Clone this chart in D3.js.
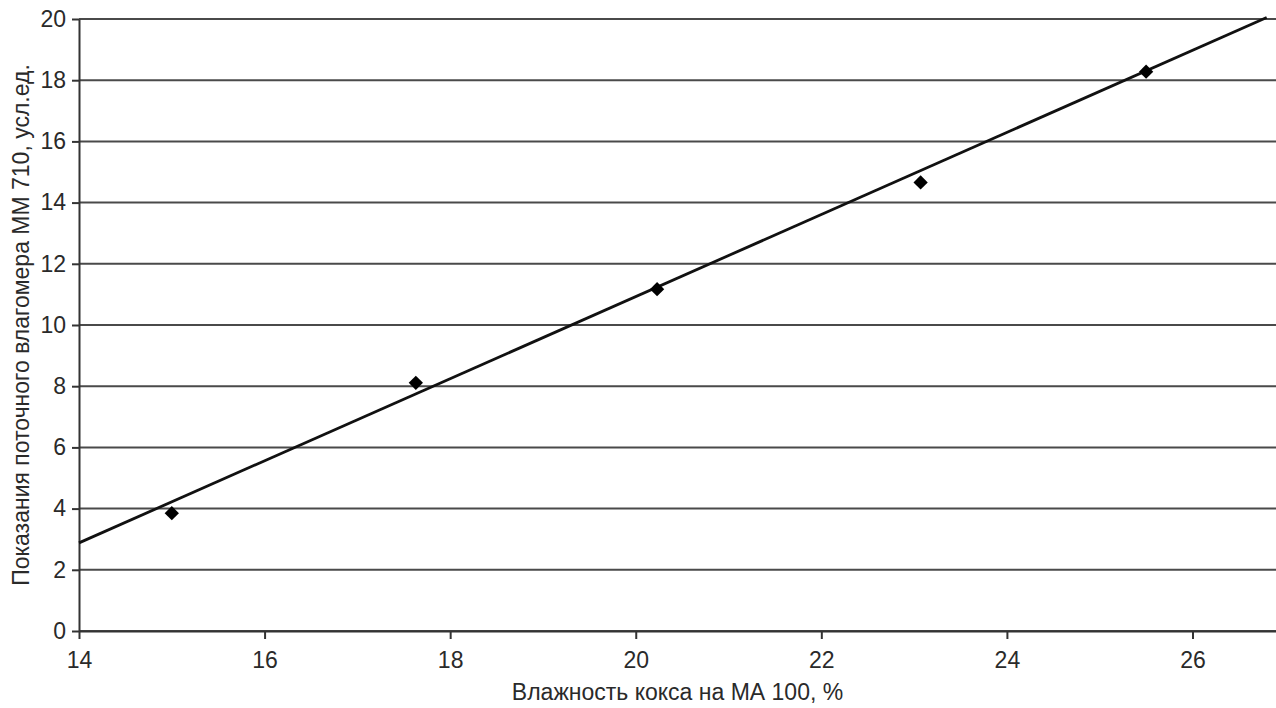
<!DOCTYPE html>
<html>
<head>
<meta charset="utf-8">
<script src="https://cdn.jsdelivr.net/npm/d3@7"></script>
<style>
  html, body { margin: 0; padding: 0; background: #fff; }
  svg { display: block; font-family: "Liberation Sans", Arial, sans-serif; }
</style>
</head>
<body>
<div id="chart"></div>
<script>
// measured points
const moistureMA = [15.0, 17.63, 20.23, 23.07, 25.5];
const readingMM = [3.85, 8.11, 11.17, 14.66, 18.28];

// trend line end points
const trendX = [14.0, 26.8];
const trendY = [2.88, 20.05];

const xTicks = [14, 16, 18, 20, 22, 24, 26];
const yTicks = [0, 2, 4, 6, 8, 10, 12, 14, 16, 18, 20];

const xTitle = 'Влажность кокса на МА 100, %';
const yTitle = 'Показания поточного влагомера ММ 710, усл.ед.';

const width = 1276, height = 708;
const margin = { top: 19, right: 0, bottom: 77, left: 79 };
const w = width - margin.left - margin.right;
const h = height - margin.top - margin.bottom;

const svg = d3.select('#chart').append('svg')
  .attr('width', width)
  .attr('height', height);

const g = svg.append('g')
  .attr('transform', `translate(${margin.left},${margin.top})`);

const x = d3.scaleLinear().domain([14, 26.9]).range([0, w]);
const y = d3.scaleLinear().domain([0, 20]).range([h, 0]);

// horizontal grid
g.selectAll('.grid')
  .data(yTicks)
  .enter()
  .append('line')
  .attr('class', 'grid')
  .attr('x1', 0)
  .attr('x2', w)
  .attr('y1', d => y(d))
  .attr('y2', d => y(d))
  .attr('stroke', '#4a4a4a')
  .attr('stroke-width', 2);

// axes
const xAxis = d3.axisBottom(x).tickValues(xTicks).tickSize(8).tickSizeOuter(0);
const yAxis = d3.axisLeft(y).tickValues(yTicks).tickSize(7).tickSizeOuter(0);

const gx = g.append('g')
  .attr('transform', `translate(0,${h})`)
  .call(xAxis);
gx.select('.domain').attr('stroke', '#333').attr('stroke-width', 2);
gx.selectAll('.tick line').attr('stroke', '#333').attr('stroke-width', 2);
gx.selectAll('.tick text')
  .attr('y', 21)
  .attr('fill', '#2a2a2a')
  .style('font-size', '23px');

const gy = g.append('g').call(yAxis);
gy.select('.domain').attr('stroke', '#333').attr('stroke-width', 2);
gy.selectAll('.tick line').attr('stroke', '#333').attr('stroke-width', 2);
gy.selectAll('.tick text')
  .attr('x', -13)
  .attr('fill', '#2a2a2a')
  .style('font-size', '23px');

// trend line
const line = d3.line()
  .x(d => x(d[0]))
  .y(d => y(d[1]));

g.append('path')
  .datum(d3.zip(trendX, trendY))
  .attr('d', line)
  .attr('fill', 'none')
  .attr('stroke', '#111')
  .attr('stroke-width', 2.8);

// markers
const diamond = d3.symbol().type(d3.symbolDiamond2).size(130);
g.selectAll('.pt')
  .data(d3.zip(moistureMA, readingMM))
  .enter()
  .append('path')
  .attr('class', 'pt')
  .attr('transform', d => `translate(${x(d[0])},${y(d[1])})`)
  .attr('d', diamond)
  .attr('fill', '#000');

// titles
svg.append('text')
  .attr('x', margin.left + w / 2)
  .attr('y', 700)
  .attr('text-anchor', 'middle')
  .attr('fill', '#2a2a2a')
  .style('font-size', '23px')
  .text(xTitle);

svg.append('text')
  .attr('transform', `translate(29,${margin.top + h / 2}) rotate(-90)`)
  .attr('text-anchor', 'middle')
  .attr('fill', '#2a2a2a')
  .style('font-size', '23px')
  .text(yTitle);
</script>
</body>
</html>
